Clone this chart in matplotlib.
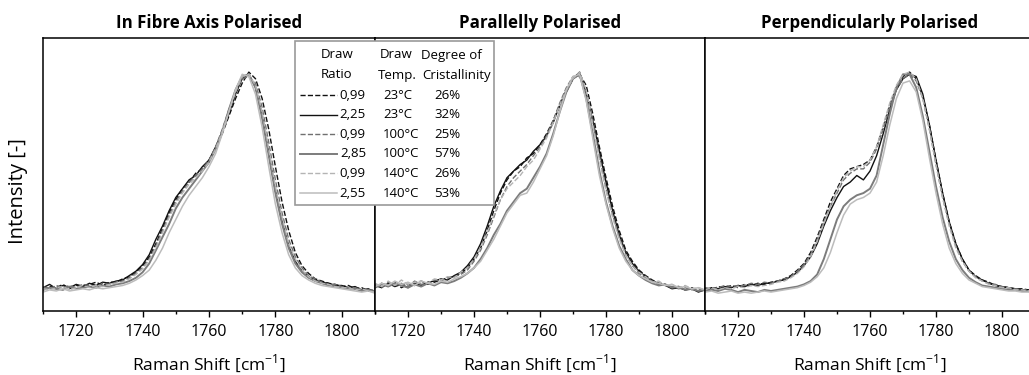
import numpy as np
import matplotlib
matplotlib.use("Agg")
import matplotlib.pyplot as plt
from matplotlib.lines import Line2D
from matplotlib.patches import Rectangle
from matplotlib.ticker import MultipleLocator

plt.rcParams['font.family'] = ['Open Sans', 'DejaVu Sans']

# Raman shift grid [cm-1]
shift = np.arange(1710, 1811, 2)

# In fibre axis polarised
fa_099_23 = [0.01, 0.025, 0.02, 0.035, 0.015, 0.03, 0.03, 0.035, 0.045, 0.03,
             0.045, 0.045, 0.06, 0.07, 0.09, 0.12, 0.16, 0.22, 0.29, 0.36,
             0.42, 0.47, 0.5, 0.54, 0.56, 0.6, 0.65, 0.72, 0.8, 0.88,
             0.95, 1.0, 0.97, 0.88, 0.74, 0.57, 0.41, 0.28, 0.18, 0.12,
             0.085, 0.06, 0.05, 0.04, 0.035, 0.025, 0.03, 0.015, 0.02, 0.005, 0.01]
fa_225_23 = [0.02, 0.035, 0.015, 0.03, 0.02, 0.035, 0.025, 0.04, 0.03, 0.045,
             0.04, 0.05, 0.055, 0.075, 0.095, 0.125, 0.17, 0.24, 0.3, 0.37,
             0.43, 0.47, 0.51, 0.53, 0.57, 0.6, 0.66, 0.73, 0.81, 0.9,
             0.97, 0.99, 0.93, 0.8, 0.63, 0.46, 0.32, 0.21, 0.14, 0.095,
             0.07, 0.055, 0.045, 0.04, 0.03, 0.03, 0.02, 0.025, 0.01, 0.015, 0.0]
fa_099_100 = [0.025, 0.015, 0.03, 0.02, 0.03, 0.02, 0.035, 0.03, 0.025, 0.04,
              0.035, 0.045, 0.05, 0.065, 0.085, 0.11, 0.15, 0.21, 0.28, 0.35,
              0.41, 0.46, 0.5, 0.53, 0.56, 0.6, 0.66, 0.74, 0.83, 0.91,
              0.97, 0.98, 0.95, 0.84, 0.68, 0.51, 0.36, 0.24, 0.16, 0.11,
              0.075, 0.06, 0.045, 0.035, 0.035, 0.025, 0.02, 0.02, 0.01, 0.01, 0.005]
fa_285_100 = [0.01, 0.02, 0.015, 0.01, 0.025, 0.015, 0.02, 0.025, 0.02, 0.03,
              0.025, 0.035, 0.04, 0.05, 0.065, 0.09, 0.13, 0.19, 0.25, 0.31,
              0.38, 0.43, 0.47, 0.51, 0.55, 0.59, 0.65, 0.73, 0.83, 0.92,
              0.98, 0.99, 0.93, 0.79, 0.62, 0.45, 0.31, 0.2, 0.13, 0.09,
              0.065, 0.05, 0.04, 0.03, 0.025, 0.02, 0.015, 0.015, 0.005, 0.01, 0.0]
fa_099_140 = [0.015, 0.01, 0.02, 0.025, 0.01, 0.02, 0.03, 0.02, 0.03, 0.025,
              0.035, 0.04, 0.045, 0.06, 0.08, 0.105, 0.145, 0.2, 0.27, 0.34,
              0.4, 0.45, 0.49, 0.52, 0.55, 0.59, 0.65, 0.73, 0.82, 0.91,
              0.98, 0.99, 0.94, 0.82, 0.65, 0.48, 0.34, 0.22, 0.15, 0.1,
              0.07, 0.05, 0.04, 0.035, 0.025, 0.02, 0.02, 0.01, 0.015, 0.005, 0.0]
fa_255_140 = [0.0, 0.01, 0.005, 0.015, 0.005, 0.01, 0.015, 0.01, 0.02, 0.015,
              0.02, 0.025, 0.03, 0.04, 0.055, 0.075, 0.1, 0.145, 0.2, 0.27,
              0.33, 0.39, 0.44, 0.48, 0.52, 0.57, 0.63, 0.72, 0.82, 0.92,
              0.99, 0.98, 0.9, 0.75, 0.57, 0.4, 0.27, 0.17, 0.11, 0.075,
              0.055, 0.04, 0.03, 0.025, 0.02, 0.015, 0.01, 0.005, 0.0, 0.005, -0.005]

# Parallelly polarised
pa_099_23 = [0.02, 0.04, 0.03, 0.045, 0.02, 0.035, 0.03, 0.05, 0.035, 0.045,
             0.055, 0.065, 0.07, 0.085, 0.11, 0.15, 0.2, 0.28, 0.37, 0.45,
             0.51, 0.55, 0.57, 0.61, 0.63, 0.67, 0.72, 0.78, 0.85, 0.91,
             0.97, 0.99, 0.94, 0.81, 0.66, 0.52, 0.39, 0.28, 0.19, 0.14,
             0.1, 0.075, 0.055, 0.04, 0.035, 0.02, 0.025, 0.01, 0.02, 0.005, 0.015]
pa_225_23 = [0.03, 0.02, 0.04, 0.025, 0.035, 0.02, 0.04, 0.03, 0.045, 0.05,
             0.06, 0.055, 0.075, 0.09, 0.12, 0.16, 0.22, 0.3, 0.39, 0.46,
             0.52, 0.55, 0.58, 0.6, 0.64, 0.67, 0.71, 0.77, 0.85, 0.92,
             0.97, 1.0, 0.9, 0.78, 0.64, 0.5, 0.37, 0.26, 0.18, 0.13,
             0.095, 0.07, 0.05, 0.04, 0.03, 0.015, 0.02, 0.01, 0.015, 0.0, 0.01]
pa_099_100 = [0.035, 0.02, 0.045, 0.03, 0.04, 0.025, 0.05, 0.035, 0.04, 0.055,
              0.05, 0.065, 0.07, 0.08, 0.1, 0.14, 0.19, 0.26, 0.34, 0.42,
              0.48, 0.52, 0.55, 0.58, 0.62, 0.66, 0.71, 0.78, 0.86, 0.93,
              0.98, 0.98, 0.91, 0.77, 0.62, 0.47, 0.35, 0.25, 0.17, 0.12,
              0.085, 0.065, 0.05, 0.035, 0.03, 0.025, 0.015, 0.02, 0.01, 0.015, 0.005]
pa_285_100 = [0.02, 0.035, 0.025, 0.04, 0.03, 0.02, 0.035, 0.025, 0.04, 0.03,
              0.045, 0.04, 0.05, 0.065, 0.085, 0.11, 0.15, 0.2, 0.26, 0.31,
              0.37, 0.41, 0.45, 0.47, 0.52, 0.57, 0.63, 0.72, 0.82, 0.91,
              0.97, 0.99, 0.88, 0.72, 0.55, 0.41, 0.3, 0.21, 0.15, 0.1,
              0.075, 0.055, 0.04, 0.03, 0.035, 0.02, 0.025, 0.01, 0.015, 0.005, 0.01]
pa_099_140 = [0.04, 0.025, 0.05, 0.03, 0.055, 0.035, 0.045, 0.05, 0.04, 0.06,
              0.055, 0.07, 0.065, 0.09, 0.11, 0.15, 0.2, 0.27, 0.35, 0.42,
              0.47, 0.5, 0.53, 0.57, 0.6, 0.65, 0.7, 0.77, 0.85, 0.92,
              0.97, 1.0, 0.92, 0.76, 0.6, 0.46, 0.34, 0.24, 0.17, 0.12,
              0.09, 0.07, 0.045, 0.05, 0.03, 0.035, 0.02, 0.03, 0.015, 0.02, 0.01]
pa_255_140 = [0.025, 0.04, 0.03, 0.05, 0.035, 0.045, 0.03, 0.05, 0.04, 0.035,
              0.05, 0.045, 0.06, 0.07, 0.085, 0.11, 0.14, 0.19, 0.24, 0.3,
              0.36, 0.4, 0.44, 0.45, 0.5, 0.56, 0.62, 0.71, 0.82, 0.92,
              0.98, 0.99, 0.87, 0.7, 0.53, 0.4, 0.29, 0.2, 0.14, 0.1,
              0.075, 0.06, 0.045, 0.04, 0.03, 0.035, 0.02, 0.025, 0.015, 0.02, 0.01]

# Perpendicularly polarised
pe_099_23 = [0.015, 0.01, 0.025, 0.02, 0.03, 0.02, 0.035, 0.03, 0.04, 0.035,
             0.045, 0.05, 0.06, 0.075, 0.1, 0.13, 0.18, 0.25, 0.33, 0.41,
             0.47, 0.53, 0.56, 0.57, 0.58, 0.6, 0.66, 0.75, 0.85, 0.93,
             0.98, 1.0, 0.97, 0.89, 0.76, 0.6, 0.45, 0.32, 0.22, 0.15,
             0.1, 0.075, 0.055, 0.045, 0.03, 0.025, 0.02, 0.015, 0.015, 0.01, 0.005]
pe_225_23 = [0.01, 0.02, 0.015, 0.025, 0.02, 0.03, 0.025, 0.035, 0.03, 0.04,
             0.04, 0.05, 0.055, 0.07, 0.09, 0.12, 0.16, 0.22, 0.3, 0.37,
             0.43, 0.48, 0.5, 0.53, 0.51, 0.55, 0.62, 0.72, 0.83, 0.92,
             0.97, 0.99, 0.98, 0.9, 0.76, 0.6, 0.45, 0.32, 0.22, 0.15,
             0.1, 0.07, 0.055, 0.04, 0.03, 0.025, 0.02, 0.015, 0.01, 0.01, 0.005]
pe_099_100 = [0.02, 0.015, 0.02, 0.03, 0.025, 0.03, 0.03, 0.04, 0.035, 0.045,
              0.04, 0.05, 0.06, 0.07, 0.095, 0.125, 0.17, 0.24, 0.32, 0.39,
              0.45, 0.51, 0.54, 0.56, 0.56, 0.59, 0.65, 0.74, 0.84, 0.92,
              0.97, 0.99, 0.96, 0.88, 0.74, 0.58, 0.43, 0.31, 0.21, 0.14,
              0.095, 0.07, 0.05, 0.04, 0.035, 0.025, 0.02, 0.015, 0.01, 0.01, 0.005]
pe_285_100 = [0.005, 0.01, 0.005, 0.015, 0.01, 0.0, 0.01, 0.005, 0.0, 0.01,
              0.005, 0.01, 0.015, 0.02, 0.025, 0.035, 0.05, 0.08, 0.15, 0.24,
              0.33, 0.39, 0.42, 0.44, 0.45, 0.47, 0.53, 0.67, 0.81, 0.93,
              0.99, 0.99, 0.93, 0.8, 0.64, 0.48, 0.34, 0.23, 0.15, 0.1,
              0.065, 0.045, 0.03, 0.025, 0.02, 0.015, 0.01, 0.01, 0.005, 0.005, 0.0]
pe_099_140 = [0.01, 0.02, 0.01, 0.02, 0.015, 0.025, 0.02, 0.03, 0.025, 0.03,
              0.035, 0.045, 0.05, 0.065, 0.085, 0.115, 0.16, 0.23, 0.31, 0.39,
              0.46, 0.52, 0.55, 0.57, 0.57, 0.6, 0.66, 0.76, 0.86, 0.94,
              0.99, 1.0, 0.97, 0.88, 0.74, 0.58, 0.43, 0.3, 0.2, 0.14,
              0.095, 0.065, 0.05, 0.035, 0.03, 0.02, 0.02, 0.01, 0.01, 0.005, 0.0]
pe_255_140 = [0.0, 0.005, -0.005, 0.0, 0.005, -0.005, 0.0, -0.005, 0.0, 0.005,
              0.0, 0.005, 0.01, 0.015, 0.02, 0.03, 0.045, 0.07, 0.11, 0.18,
              0.27, 0.35, 0.4, 0.42, 0.43, 0.45, 0.5, 0.62, 0.76, 0.88,
              0.95, 0.96, 0.91, 0.78, 0.61, 0.45, 0.31, 0.2, 0.13, 0.085,
              0.055, 0.04, 0.025, 0.02, 0.015, 0.01, 0.005, 0.005, 0.0, 0.0, -0.005]

titles = ['In Fibre Axis Polarised', 'Parallelly Polarised', 'Perpendicularly Polarised']
panels = [
    [fa_099_23, fa_225_23, fa_099_100, fa_285_100, fa_099_140, fa_255_140],
    [pa_099_23, pa_225_23, pa_099_100, pa_285_100, pa_099_140, pa_255_140],
    [pe_099_23, pe_225_23, pe_099_100, pe_285_100, pe_099_140, pe_255_140],
]

# legend table
draw_ratio = ['0,99', '2,25', '0,99', '2,85', '0,99', '2,55']
draw_temp = ['23°C', '23°C', '100°C', '100°C', '140°C', '140°C']
cristallinity = ['26%', '32%', '25%', '57%', '26%', '53%']

colors = ['#111111', '#111111', '#707070', '#7c7c7c', '#b4b4b4', '#bcbcbc']
styles = ['--', '-', '--', '-', '--', '-']
widths = [1.0, 1.0, 1.0, 1.4, 1.0, 1.1]

W, H = 1029, 375
fig = plt.figure(figsize=(W / 100, H / 100), dpi=100)

# axes boxes in pixels: left, width
boxes = [(43, 332), (375, 330), (705, 330)]
ax_bottom, ax_height = 64, 273

for i, (left, width) in enumerate(boxes):
    ax = fig.add_axes([left / W, ax_bottom / H, width / W, ax_height / H])
    for k, series in enumerate(panels[i]):
        ax.plot(shift, series, color=colors[k], ls=styles[k], lw=widths[k])
    ax.set_xlim(1710, 1810)
    ax.set_ylim(-0.086, 1.155)
    ax.xaxis.set_major_locator(MultipleLocator(20))
    ax.xaxis.set_minor_locator(MultipleLocator(10))
    ax.tick_params(axis='x', which='major', direction='out', length=4, width=1,
                   labelsize=11.5, pad=5)
    ax.tick_params(axis='x', which='minor', direction='out', length=2.5, width=1)
    ax.tick_params(axis='y', left=False, labelleft=False)
    for sp in ax.spines.values():
        sp.set_linewidth(1.1)
    ax.set_title(titles[i], fontsize=12.2, fontweight='bold', pad=7)
    ax.set_xlabel('Raman Shift [cm$^{\\mathregular{-1}}$]', fontsize=12.5, labelpad=9)
    if i == 0:
        ax.set_ylabel('Intensity [-]', fontsize=14.5)
        ax.yaxis.set_label_coords(-0.045, 0.44)


def fx(px):
    return px / W


def fy(py):
    return 1 - py / H


# legend box spanning the first two panels
fig.patches.append(Rectangle((fx(295), fy(205)), fx(494) - fx(295), fy(41) - fy(205),
                             transform=fig.transFigure, facecolor='white',
                             edgecolor='#9a9a9a', lw=1.2, zorder=5))
fs = 9.5
fig.text(fx(337), fy(55), 'Draw', ha='center', va='center', fontsize=fs, zorder=6)
fig.text(fx(337), fy(75), 'Ratio', ha='center', va='center', fontsize=fs, zorder=6)
fig.text(fx(396), fy(55), 'Draw', ha='center', va='center', fontsize=fs, zorder=6)
fig.text(fx(397), fy(75), 'Temp.', ha='center', va='center', fontsize=fs, zorder=6)
fig.text(fx(451), fy(55), 'Degree of', ha='center', va='center', fontsize=fs, zorder=6)
fig.text(fx(457), fy(75), 'Cristallinity', ha='center', va='center', fontsize=fs, zorder=6)
for k in range(6):
    yy = fy(95 + k * 19.6)
    fig.lines.append(Line2D([fx(300), fx(337)], [yy, yy], transform=fig.transFigure,
                            color=colors[k], ls=styles[k], lw=widths[k], zorder=6))
    fig.text(fx(366), yy, draw_ratio[k], ha='right', va='center', fontsize=fs, zorder=6)
    fig.text(fx(383), yy, draw_temp[k], ha='left', va='center', fontsize=fs, zorder=6)
    fig.text(fx(434), yy, cristallinity[k], ha='left', va='center', fontsize=fs, zorder=6)

fig.savefig('out.png', dpi=100)
